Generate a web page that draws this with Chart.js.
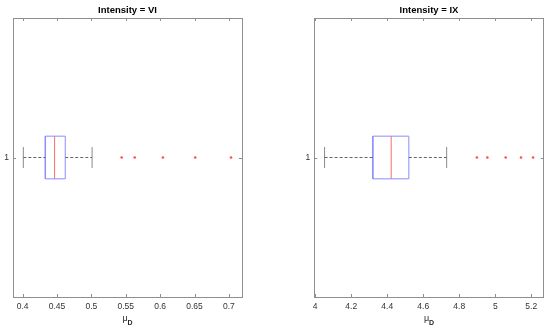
<!DOCTYPE html>
<html>
<head>
<meta charset="utf-8">
<script src="https://cdn.jsdelivr.net/npm/chart.js@4/dist/chart.umd.min.js"></script>
<style>
  body { margin: 0; background: #fff; }
  .panel { position: absolute; top: 0; width: 275px; height: 331px; }
</style>
</head>
<body>
<div class="panel" style="left:0"><canvas id="canvVI" width="275" height="331"></canvas></div>
<div class="panel" style="left:275px"><canvas id="canvIX" width="275" height="331"></canvas></div>
<script>
// box stats: lower whisker, q1, median, q3, upper whisker
var panelTitles = ['Intensity = VI', 'Intensity = IX'];
var groupLabels = ['1'];
var viStats = [0.401, 0.433, 0.4465, 0.462, 0.501];
var viOutliers = [0.544, 0.563, 0.604, 0.651, 0.703];
var viTicks = [0.4, 0.45, 0.5, 0.55, 0.6, 0.65, 0.7];
var viRange = [0.386, 0.719];
var ixStats = [4.052, 4.32, 4.422, 4.52, 4.73];
var ixOutliers = [4.898, 4.956, 5.058, 5.143, 5.21];
var ixTicks = [4, 4.2, 4.4, 4.6, 4.8, 5, 5.2];
var ixRange = [3.995, 5.269];
var xLabel = ['μ', 'D'];

var fontFam = "'Liberation Sans', Arial, sans-serif";

function line(pts, color, dash) {
  return {
    data: pts.map(function (p) { return { x: p[0], y: p[1] }; }),
    showLine: true, fill: false, tension: 0,
    borderColor: color, borderWidth: 1, borderDash: dash || [],
    pointRadius: 0
  };
}

var framePlugin = {
  id: 'frame',
  beforeDatasetsDraw: function (chart) {
    var a = chart.chartArea, ctx = chart.ctx;
    var xs = chart.scales.x, ys = chart.scales.y;
    ctx.save();
    ctx.strokeStyle = '#8f8f8f';
    ctx.lineWidth = 1;
    ctx.strokeRect(Math.round(a.left) + 0.5, Math.round(a.top) + 0.5,
      Math.round(a.right - a.left), Math.round(a.bottom - a.top));
    // inside ticks
    xs.ticks.forEach(function (t) {
      var px = Math.round(xs.getPixelForValue(t.value)) + 0.5;
      ctx.beginPath();
      ctx.moveTo(px, a.bottom); ctx.lineTo(px, a.bottom - 3);
      ctx.moveTo(px, a.top); ctx.lineTo(px, a.top + 3);
      ctx.stroke();
    });
    ys.ticks.forEach(function (t) {
      var py = Math.round(ys.getPixelForValue(t.value)) + 0.5;
      ctx.beginPath();
      ctx.moveTo(a.left, py); ctx.lineTo(a.left + 3, py);
      ctx.moveTo(a.right, py); ctx.lineTo(a.right - 3, py);
      ctx.stroke();
    });
    ctx.restore();
  },
  afterDraw: function (chart) {
    var a = chart.chartArea, ctx = chart.ctx;
    var cx = (a.left + a.right) / 2;
    ctx.save();
    ctx.fillStyle = '#000';
    ctx.font = 'bold 9.5px ' + fontFam;
    ctx.textAlign = 'center';
    ctx.textBaseline = 'middle';
    ctx.fillText(chart.options.plugins.frame.title, cx, 10);
    // axis label mu with subscript D
    ctx.fillStyle = '#262626';
    ctx.font = '9px ' + fontFam;
    ctx.textAlign = 'left';
    ctx.textBaseline = 'alphabetic';
    var w1 = ctx.measureText(xLabel[0]).width;
    ctx.font = 'bold 7px ' + fontFam;
    var w2 = ctx.measureText(xLabel[1]).width;
    var x0 = cx - (w1 + w2) / 2;
    ctx.font = '9px ' + fontFam;
    ctx.fillText(xLabel[0], x0, 321);
    ctx.font = 'bold 7px ' + fontFam;
    ctx.fillText(xLabel[1], x0 + w1, 325);
    ctx.restore();
  }
};

function makeChart(id, title, stats, outliers, ticks, range, leftW, rightPad) {
  var lw = stats[0], q1 = stats[1], med = stats[2], q3 = stats[3], uw = stats[4];
  var bh = 0.0765, ch = 0.0376;
  var whisk = '#666666', cap = '#8a8a8a', box = '#8c8cff', red = '#ff6a6a';
  return new Chart(document.getElementById(id), {
    type: 'scatter',
    data: {
      datasets: [
        line([[lw, 1], [q1, 1]], whisk, [3, 2]),
        line([[q3, 1], [uw, 1]], whisk, [3, 2]),
        line([[lw, 1 - ch], [lw, 1 + ch]], cap),
        line([[uw, 1 - ch], [uw, 1 + ch]], cap),
        line([[q1, 1 - bh], [q3, 1 - bh], [q3, 1 + bh], [q1, 1 + bh], [q1, 1 - bh]], box),
        line([[med, 1 - bh], [med, 1 + bh]], red),
        {
          data: outliers.map(function (v) { return { x: v, y: 1 }; }),
          showLine: false, pointStyle: 'circle', pointRadius: 1.3,
          borderColor: red, backgroundColor: '#ff5050', borderWidth: 0
        }
      ]
    },
    options: {
      responsive: false,
      animation: false,
      layout: { padding: { top: 18, right: rightPad, left: 0, bottom: 0 } },
      plugins: { legend: { display: false }, tooltip: { enabled: false }, frame: { title: title } },
      scales: {
        x: {
          type: 'linear', min: range[0], max: range[1],
          grid: { display: false, drawTicks: false }, border: { display: false },
          afterBuildTicks: function (s) { s.ticks = ticks.map(function (v) { return { value: v }; }); },
          afterFit: function (s) { s.height = 34; },
          ticks: {
            padding: 5, maxRotation: 0, autoSkip: false, color: '#333',
            font: { family: fontFam, size: 8.5 },
            callback: function (v) { return String(v); }
          }
        },
        y: {
          type: 'linear', min: 0.5, max: 1.5,
          grid: { display: false, drawTicks: false }, border: { display: false },
          afterBuildTicks: function (s) { s.ticks = [{ value: 1 }]; },
          afterFit: function (s) { s.width = leftW; },
          ticks: {
            padding: 4, color: '#333',
            font: { family: fontFam, size: 8.5 },
            callback: function () { return groupLabels[0]; }
          }
        }
      }
    },
    plugins: [framePlugin]
  });
}

makeChart('canvVI', panelTitles[0], viStats, viOutliers, viTicks, viRange, 13, 33);
makeChart('canvIX', panelTitles[1], ixStats, ixOutliers, ixTicks, ixRange, 39.3, 6.3);
</script>
</body>
</html>
